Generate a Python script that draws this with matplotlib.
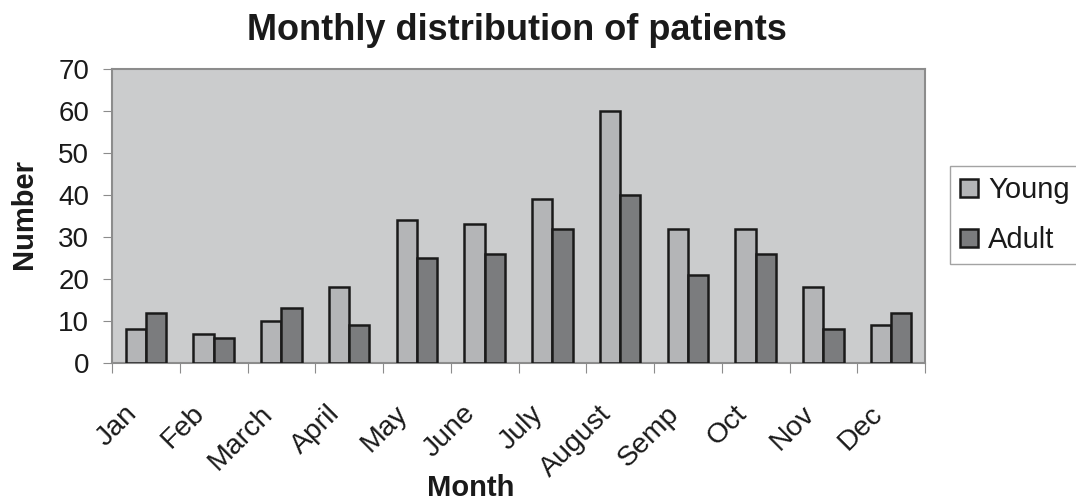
import matplotlib.pyplot as plt
import matplotlib.transforms as mtransforms
import numpy as np

months = ["Jan", "Feb", "March", "April", "May", "June", "July",
          "August", "Semp", "Oct", "Nov", "Dec"]
young = [8, 7, 10, 18, 34, 33, 39, 60, 32, 32, 18, 9]
adult = [12, 6, 13, 9, 25, 26, 32, 40, 21, 26, 8, 12]
y_ticks = [0, 10, 20, 30, 40, 50, 60, 70]

plt.rcParams['font.family'] = ['Liberation Sans', 'DejaVu Sans']

fig = plt.figure(figsize=(10.76, 5.04), dpi=100)
ax = fig.add_axes([112 / 1076, 1 - 363 / 504, 813 / 1076, 294 / 504])
ax.set_facecolor('#cbcccd')

x = np.arange(len(months))
w = 0.3
ax.bar(x - w / 2, young, w, color='#b4b5b7', edgecolor='#1a1a1a',
       linewidth=1.8, label='Young', zorder=3)
ax.bar(x + w / 2, adult, w, color='#7b7c7e', edgecolor='#1a1a1a',
       linewidth=1.8, label='Adult', zorder=3)

ax.set_xlim(-0.5, len(months) - 0.5)
ax.set_ylim(0, 70)
ax.set_yticks(y_ticks)
ax.tick_params(axis='y', labelsize=20, length=6.5, color='#8c8c8c', pad=10,
               labelcolor='#1a1a1a')

# tick marks at category boundaries, labels at centres
ax.set_xticks(np.arange(len(months) + 1) - 0.5)
ax.set_xticklabels([])
ax.set_xticks(x, minor=True)
ax.set_xticklabels(months, minor=True, rotation=45, ha='right',
                   rotation_mode='anchor', fontsize=20.5)
ax.tick_params(axis='x', which='major', length=7, color='#8c8c8c')
ax.tick_params(axis='x', which='minor', length=0, pad=27,
               labelcolor='#1a1a1a')
shift = mtransforms.ScaledTranslation(-0.22, 0, fig.dpi_scale_trans)
for lab in ax.get_xticklabels(minor=True):
    lab.set_transform(lab.get_transform() + shift)

for s in ax.spines.values():
    s.set_color('#8c8c8c')
    s.set_linewidth(1.5)

fig.text(517 / 1076, 1 - 30 / 504, "Monthly distribution of patients",
         ha='center', va='center', fontsize=26, fontweight='bold',
         color='#1a1a1a')
fig.text(471 / 1076, 1 - 488 / 504, "Month", ha='center', va='center',
         fontsize=21, fontweight='bold', color='#1a1a1a')
fig.text(24 / 1076, 1 - 214 / 504, "Number", ha='center', va='center',
         rotation=90, fontsize=21, fontweight='bold', color='#1a1a1a')

leg = fig.legend(loc='upper left', bbox_to_anchor=(950 / 1076, 1 - 166 / 504),
                 fontsize=21, frameon=True, fancybox=False, handlelength=0.6,
                 handleheight=0.6, handletextpad=0.35, borderpad=0.35,
                 labelspacing=0.75, borderaxespad=0)
leg.get_frame().set_edgecolor('#8c8c8c')
leg.get_frame().set_linewidth(1.0)
for t in leg.get_texts():
    t.set_color('#1a1a1a')

fig.savefig('out.png', dpi=100)
